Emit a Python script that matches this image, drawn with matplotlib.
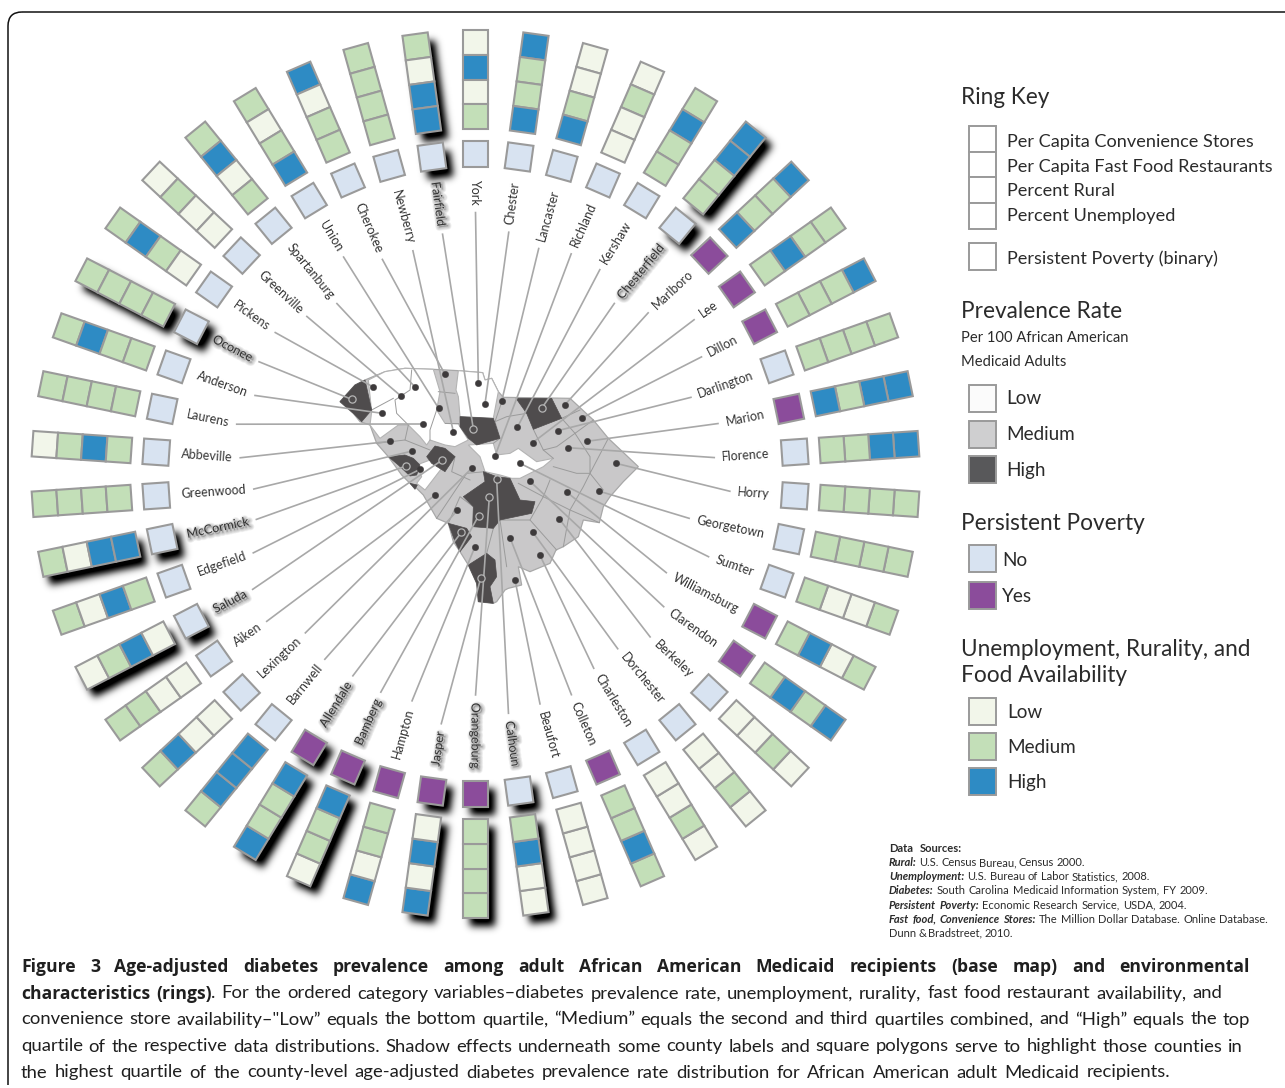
import numpy as np
import matplotlib
matplotlib.use("Agg")
import matplotlib.pyplot as plt
import matplotlib.patheffects as pe
from matplotlib.patches import Polygon, Rectangle, FancyBboxPatch
from matplotlib.path import Path

plt.rcParams['font.family'] = ['Lato', 'DejaVu Sans']

# clockwise from the top of the ring
counties = ["York", "Chester", "Lancaster", "Richland", "Kershaw", "Chesterfield", "Marlboro", "Lee",
            "Dillon", "Darlington", "Marion", "Florence", "Horry", "Georgetown", "Sumter", "Williamsburg",
            "Clarendon", "Berkeley", "Dorchester", "Charleston", "Colleton", "Beaufort", "Calhoun",
            "Orangeburg", "Jasper", "Hampton", "Bamberg", "Allendale", "Barnwell", "Lexington", "Aiken",
            "Saluda", "Edgefield", "McCormick", "Greenwood", "Abbeville", "Laurens", "Anderson", "Oconee",
            "Pickens", "Greenville", "Spartanburg", "Union", "Cherokee", "Newberry", "Fairfield"]

# outer to inner: convenience stores, fast food, rural, unemployed
rings = ["LHLM", "HMMH", "LLMH", "LMLL", "MHMM", "HHMM", "HMMH", "MMHM",
         "HMMM", "MMMM", "HHMH", "HHMM", "MMMM", "MMMM", "MLLM", "MLHM",
         "HMHM", "LMLL", "LMLL", "LMLL", "MHMM", "LLLL", "LLHM",
         "MMMM", "HLHL", "HLMM", "LMMH", "HMMH", "MHHH", "MHLL", "MMLL",
         "LMHL", "MLHM", "MLHH", "MMMM", "LMHM", "MMMM", "MHMM", "MMMM",
         "MHML", "LMLL", "MHLM", "MLMH", "HLMM", "MMMM", "MLHH"]

poverty = ["Marlboro", "Lee", "Dillon", "Marion", "Williamsburg", "Clarendon", "Colleton",
           "Orangeburg", "Jasper", "Hampton", "Bamberg", "Allendale"]
high_prevalence = ["Chesterfield", "Calhoun", "Orangeburg", "Jasper", "Bamberg", "Allendale",
                   "Saluda", "McCormick", "Oconee", "Fairfield"]

# map points, same order as counties
county_dots = [(445, 100), (465, 162), (515, 153), (495, 318), (562, 232), (635, 175), (705, 164), (608, 278),
               (757, 203), (683, 242), (770, 274), (713, 293), (858, 340), (806, 423), (570, 340), (710, 426),
               (600, 394), (688, 507), (608, 546), (630, 616), (540, 563), (555, 690), (500, 388),
               (478, 440), (452, 685), (435, 590), (446, 497), (394, 547), (382, 481), (425, 355), (316, 435),
               (337, 330), (270, 358), (228, 348), (247, 303), (180, 274), (278, 222), (157, 190), (65, 148),
               (128, 110), (213, 138), (254, 110), (326, 175), (345, 73), (370, 245), (430, 237)]

state_outline = [(30, 155), (75, 105), (105, 90), (165, 65), (225, 55), (310, 58), (385, 62), (458, 68), (465, 90),
                 (485, 85), (505, 125), (520, 142), (720, 145), (790, 210), (835, 265), (925, 350), (880, 395),
                 (840, 440), (820, 470), (808, 518), (760, 510), (745, 560), (700, 590), (678, 600), (660, 640),
                 (600, 665), (565, 650), (575, 705), (535, 715), (525, 720), (500, 755), (490, 760), (445, 755),
                 (440, 700), (415, 645), (390, 605), (370, 575), (355, 520), (320, 505), (280, 435), (260, 415),
                 (240, 400), (215, 375), (175, 320), (140, 280), (120, 225), (90, 215), (70, 190)]

low_areas = [
    [(115, 90), (165, 65), (225, 55), (310, 58), (330, 125), (320, 180), (345, 220), (385, 222), (415, 270),
     (375, 290), (345, 285), (300, 270), (290, 285), (270, 260), (235, 225), (205, 225), (150, 265), (120, 225),
     (125, 185)],
    [(385, 62), (458, 68), (465, 90), (485, 85), (505, 125), (490, 205), (390, 200), (385, 140), (378, 120)],
    [(415, 285), (490, 280), (500, 315), (540, 310), (565, 295), (620, 335), (670, 325), (640, 350), (570, 385),
     (545, 385), (510, 375), (465, 365), (450, 320)],
    [(260, 345), (300, 330), (335, 355), (285, 420), (260, 400), (275, 380)],
]

high_areas = [
    [(30, 155), (75, 105), (105, 90), (125, 180), (95, 215), (70, 190)],
    [(390, 200), (490, 205), (510, 265), (440, 285), (415, 265), (390, 230)],
    [(558, 145), (665, 145), (695, 205), (610, 238), (590, 190)],
    [(290, 320), (315, 288), (345, 295), (375, 320), (345, 365), (305, 340)],
    [(175, 320), (225, 315), (250, 325), (270, 345), (260, 375), (240, 378), (205, 345)],
    [(240, 400), (262, 405), (255, 418)],
    [(460, 365), (500, 380), (540, 385), (570, 450), (615, 455), (605, 490), (510, 510), (490, 535), (428, 530),
     (430, 470), (400, 440), (465, 395)],
    [(355, 520), (410, 535), (425, 560), (390, 605), (375, 575)],
    [(415, 645), (470, 610), (495, 630), (500, 680), (480, 710), (490, 760), (445, 755), (440, 700)],
]

county_lines = [
    [(520, 142), (495, 215), (510, 265), (490, 280)], [(590, 190), (530, 200), (495, 215)],
    [(695, 205), (750, 180)], [(695, 205), (735, 250), (790, 210)], [(610, 238), (640, 300), (670, 325)],
    [(735, 250), (680, 290), (640, 300)], [(735, 250), (780, 320), (780, 370), (835, 265)],
    [(670, 350), (740, 370), (780, 370), (820, 420)], [(660, 390), (640, 440), (600, 510), (680, 600)],
    [(640, 440), (720, 480), (808, 518)], [(780, 370), (760, 410), (720, 480), (700, 590)],
    [(565, 400), (640, 440)], [(600, 510), (510, 510), (530, 650)], [(490, 535), (470, 610)],
    [(355, 520), (390, 440), (430, 470)], [(320, 505), (410, 370), (465, 365)], [(375, 320), (365, 365), (420, 390)],
    [(235, 225), (225, 270), (300, 300)], [(140, 280), (225, 270)], [(385, 220), (345, 220)],
    [(325, 125), (375, 130)], [(245, 60), (240, 120), (195, 150), (200, 190), (235, 225)],
    [(125, 180), (190, 145)], [(320, 180), (300, 240), (300, 270)],
]

legend_low_med_high = ["Low", "Medium", "High"]
ring_key = ["Per Capita Convenience Stores", "Per Capita Fast Food Restaurants", "Percent Rural", "Percent Unemployed"]

sources = [[("Data Sources:", "bold", "normal")],
           [("Rural:", "bold", "italic"), ("U.S. Census Bureau, Census 2000.", "normal", "normal")],
           [("Unemployment:", "bold", "italic"), ("U.S. Bureau of Labor Statistics, 2008.", "normal", "normal")],
           [("Diabetes:", "bold", "italic"), ("South Carolina Medicaid Information System, FY 2009.", "normal", "normal")],
           [("Persistent Poverty:", "bold", "italic"), ("Economic Research Service, USDA, 2004.", "normal", "normal")],
           [("Fast food, Convenience Stores:", "bold", "italic"),
            ("The Million Dollar Database. Online Database.", "normal", "normal")],
           [("Dunn & Bradstreet, 2010.", "normal", "normal")]]
sources_right = [962, 1085, 1150, 1208, 1187, 1268, 1013]

caption = [[("Figure 3 Age-adjusted diabetes prevalence among adult African American Medicaid recipients (base map) and environmental", "bold", "normal")],
           [("characteristics (rings)", "bold", "normal"),
            (". For the ordered category variables–diabetes prevalence rate, unemployment, rurality, fast food restaurant availability, and", "normal", "normal")],
           [("convenience store availability–\"Low” equals the bottom quartile, “Medium” equals the second and third quartiles combined, and “High” equals the top", "normal", "normal")],
           [("quartile of the respective data distributions. Shadow effects underneath some county labels and square polygons serve to highlight those counties in", "normal", "normal")],
           [("the highest quartile of the county-level age-adjusted diabetes prevalence rate distribution for African American adult Medicaid recipients.", "normal", "normal")]]
caption_right = [1250, 1222, 1250, 1243, 1170]

ring_colors = {"L": "#f2f6ea", "M": "#c3dfb8", "H": "#2e8bc4"}
prev_colors = {"Low": "#fbfbfb", "Medium": "#cfcfd0", "High": "#58585a"}
pale = "#d8e3f1"
purple = "#8b4c9b"
edge = "#9a9a9a"
map_gray = "#c9c8c9"
map_dark = "#4f4c4d"
text_color = "#2b2b2b"

W, H = 1285, 1088
cx, cy = 475.5, 474
cell_w = 25.5
stack_in, stack_out = 345, 444
square_in, square_out = 307, 333
label_r = 295
map_x, map_y, map_s = 330, 350, 1 / 3.0
shadow_shift = np.array([7.0, 8.0])
shadow_sigma = 3.8


def to_px(points):
    pts = np.array(points, dtype=float)
    return np.column_stack([map_x + pts[:, 0] * map_s, map_y + pts[:, 1] * map_s])


def box(theta, r0, r1, w=cell_w):
    u = np.array([np.sin(theta), -np.cos(theta)])
    v = np.array([np.cos(theta), np.sin(theta)])
    c = np.array([cx, cy])
    return np.array([c + u * r0 - v * w / 2, c + u * r1 - v * w / 2, c + u * r1 + v * w / 2, c + u * r0 + v * w / 2])


def blurred_shadows(shapes):
    # mask of all shifted shapes, gaussian blur done in the fourier domain
    mask = np.zeros((H, W))
    for xy in shapes:
        pts = xy + shadow_shift
        x0, y0 = np.floor(pts.min(axis=0)).astype(int)
        x1, y1 = np.ceil(pts.max(axis=0)).astype(int)
        xs, ys = np.meshgrid(np.arange(x0, x1) + 0.5, np.arange(y0, y1) + 0.5)
        inside = Path(pts).contains_points(np.column_stack([xs.ravel(), ys.ravel()]))
        mask[y0:y1, x0:x1] = np.maximum(mask[y0:y1, x0:x1], inside.reshape(xs.shape))
    fy = np.fft.fftfreq(H)[:, None]
    fx = np.fft.rfftfreq(W)[None, :]
    kernel = np.exp(-2 * (np.pi * shadow_sigma) ** 2 * (fx ** 2 + fy ** 2))
    blurred = np.fft.irfft2(np.fft.rfft2(mask) * kernel, s=mask.shape)
    rgba = np.zeros((H, W, 4))
    rgba[..., 3] = np.clip(blurred * 1.15, 0, 1)
    return rgba


def fit_line(ax, renderer, segments, x0, x1, y, sizes, fonts, color=text_color):
    # word by word so that a line runs exactly from x0 to x1
    words = []
    for seg, weight, style in segments:
        for w in seg.split(" "):
            words.append((w, weight, style))
    items = []
    total = 0
    for w, weight, style in words:
        t = ax.text(x0, y, w, fontsize=sizes[weight], family=fonts[weight], fontweight=weight, fontstyle=style,
                    color=color, ha="left", va="center_baseline", zorder=8)
        wd = t.get_window_extent(renderer).width
        items.append((t, wd))
        total += wd
    n_gaps = len(items) - 1
    if segments[-1][0].startswith(".") and len(segments) > 1:
        n_gaps -= 1
    gap = (x1 - x0 - total) / max(n_gaps, 1)
    x = x0
    for i, (t, wd) in enumerate(items):
        # segment starting with punctuation hangs on the word before
        if t.get_text() == "." and i > 0:
            x -= gap
        t.set_x(x)
        x += wd + gap


fig = plt.figure(figsize=(12.85, 10.88), dpi=100)
ax = fig.add_axes([0, 0, 1, 1])
renderer = fig.canvas.get_renderer()

# frame, open on the right and the bottom
ax.add_patch(FancyBboxPatch((8, 12), 1400, 1200, boxstyle="round,pad=0,rounding_size=14", fc="none",
                            ec="#111111", lw=1.1, zorder=0))
ax.add_patch(Rectangle((0, 1085), 1290, 6, fc="white", ec="none", zorder=0.5))

# base map
ax.add_patch(Polygon(to_px(state_outline), closed=True, fc=map_gray, ec="#a8a8a8", lw=0.9, zorder=1.2))
for area in low_areas:
    ax.add_patch(Polygon(to_px(area), closed=True, fc="white", ec="#b4b4b4", lw=0.8, zorder=1.3))
for line in county_lines:
    pts = to_px(line)
    ax.plot(pts[:, 0], pts[:, 1], color="#9b9b9b", lw=0.7, zorder=1.4)
for area in high_areas:
    ax.add_patch(Polygon(to_px(area), closed=True, fc=map_dark, ec=map_dark, lw=0.5, zorder=1.5))

dots = to_px(county_dots)
n = len(counties)
shadow_shapes = []
for i, name in enumerate(counties):
    theta = 2 * np.pi * i / n
    u = np.array([np.sin(theta), -np.cos(theta)])
    deg = np.degrees(theta)
    hot = name in high_prevalence

    square = box(theta, square_in, square_out)
    stack = box(theta, stack_in, stack_out)
    if hot:
        shadow_shapes += [square, stack]

    ax.add_patch(Polygon(square, closed=True, fc=purple if name in poverty else pale, ec=edge, lw=1.5,
                         joinstyle="miter", zorder=4))
    step = (stack_out - stack_in) / 4.0
    for k, level in enumerate(rings[i]):
        r1 = stack_out - k * step
        ax.add_patch(Polygon(box(theta, r1 - step, r1), closed=True, fc=ring_colors[level], ec=edge, lw=1.5,
                             joinstyle="miter", zorder=4))

    # outward text on the right side, inward on the left and for York
    lx, ly = cx + u[0] * label_r, cy + u[1] * label_r
    if 0 < i < 24:
        rot, ha = 90 - deg, "right"
    else:
        rot, ha = 270 - deg, "left"
    t = ax.text(lx, ly, name, fontsize=9.0, color="#333333", ha=ha, va="center", rotation=0,
                rotation_mode="anchor", zorder=6)
    width = t.get_window_extent(renderer).width
    t.set_rotation(rot)
    if hot:
        t.set_path_effects([pe.Stroke(linewidth=w, foreground="k", alpha=0.05, offset=(1.2, -1.2))
                            for w in (1, 2, 3, 4, 5)] + [pe.Normal()])

    start = np.array([cx, cy]) + u * (label_r - width - 7)
    ax.plot([start[0], dots[i, 0]], [start[1], dots[i, 1]], color="#a8a8a8", lw=1.2, zorder=2,
            solid_capstyle="butt")
    if hot:
        ax.plot(dots[i, 0], dots[i, 1], "o", ms=5.2, mfc=map_dark, mec="#b5b5b5", mew=0.9, zorder=3)
    else:
        ax.plot(dots[i, 0], dots[i, 1], "o", ms=4.6, mfc="#3d3a3b", mec="#3d3a3b", mew=0.3, zorder=3)

ax.imshow(blurred_shadows(shadow_shapes), extent=(0, W, H, 0), aspect="auto", interpolation="nearest", zorder=1)
ax.set_xlim(0, W)
ax.set_ylim(H, 0)
ax.axis("off")

# legend
title_size = 16.3
label_size = 13.1
level_size = 13.6
ax.text(961, 98, "Ring Key", fontsize=title_size, color=text_color, va="center")
key_y = [126, 151.7, 177.4, 203.1]
label_y = [142, 167, 191, 216]
for yy, ly, name in zip(key_y, label_y, ring_key):
    ax.add_patch(Rectangle((968.5, yy), 27, 25.7, fc="white", ec=edge, lw=1.4))
    ax.text(1007, ly, name, fontsize=label_size, color=text_color, va="center")
ax.add_patch(Rectangle((968.5, 242.5), 27, 27, fc="white", ec=edge, lw=1.4))
ax.text(1007, 259, "Persistent Poverty (binary)", fontsize=label_size, color=text_color, va="center")

ax.text(961, 312, "Prevalence Rate", fontsize=title_size, color=text_color, va="center")
ax.text(961, 338, "Per 100 African American", fontsize=10.6, color=text_color, va="center")
ax.text(961, 362, "Medicaid Adults", fontsize=10.6, color=text_color, va="center")
for yy, name in zip([384.5, 420.5, 456], legend_low_med_high):
    ax.add_patch(Rectangle((968.5, yy), 27, 27, fc=prev_colors[name], ec=edge, lw=1.4))
    ax.text(1006, yy + 14.5, name, fontsize=level_size, color=text_color, va="center")

ax.text(961, 524, "Persistent Poverty", fontsize=title_size, color=text_color, va="center")
for yy, name, col in zip([545, 581.5], ["No", "Yes"], [pale, purple]):
    ax.add_patch(Rectangle((969, yy), 27, 27, fc=col, ec=edge, lw=1.4))
    ax.text(1002, yy + 15, name, fontsize=level_size, color=text_color, va="center")

ax.text(961, 650, "Unemployment, Rurality, and", fontsize=title_size, color=text_color, va="center")
ax.text(961, 676, "Food Availability", fontsize=title_size, color=text_color, va="center")
for yy, name, key in zip([697.5, 732.5, 767.5], legend_low_med_high, "LMH"):
    ax.add_patch(Rectangle((969, yy), 27, 27, fc=ring_colors[key], ec=edge, lw=1.4))
    ax.text(1007, yy + 15, name, fontsize=level_size, color=text_color, va="center")

# sources and caption
source_sizes = {"normal": 8.0, "bold": 8.0}
source_fonts = {"normal": "Lato", "bold": "Lato"}
for row, (segs, right) in enumerate(zip(sources, sources_right)):
    fit_line(ax, renderer, segs, 889, right, 847.7 + row * 14.1, source_sizes, source_fonts)
caption_sizes = {"normal": 13.3, "bold": 12.6}
caption_fonts = {"normal": "Lato", "bold": "Open Sans"}
for row, (segs, right) in enumerate(zip(caption, caption_right)):
    fit_line(ax, renderer, segs, 21, right, [965, 992, 1018, 1045, 1071][row], caption_sizes, caption_fonts, "#1f1f1f")

fig.savefig("out.png", dpi=100)
